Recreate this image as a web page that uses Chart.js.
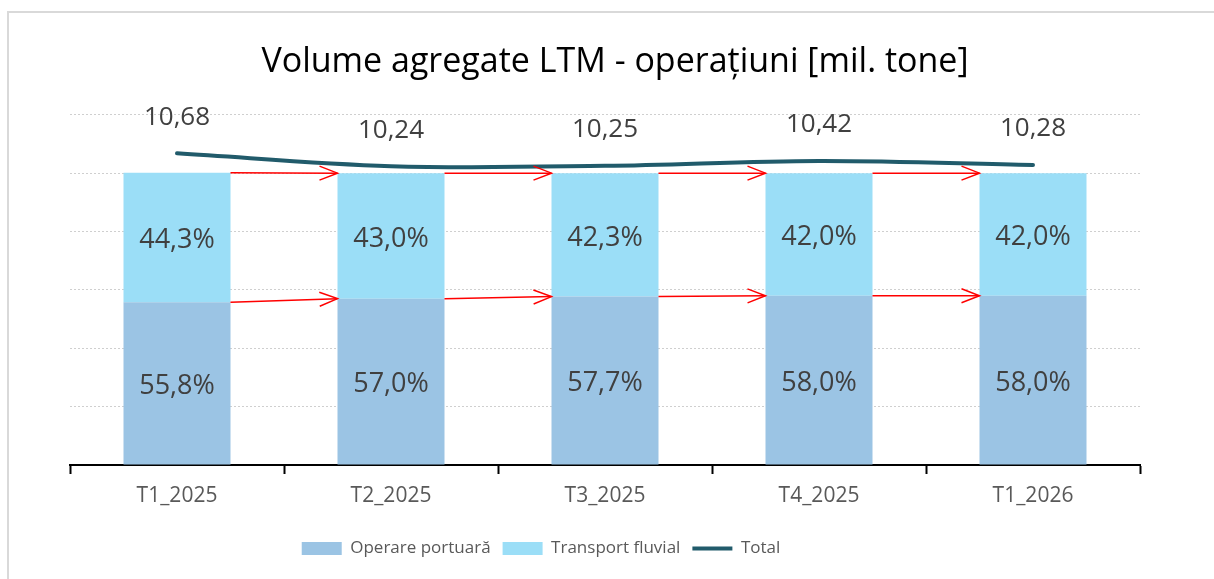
<!DOCTYPE html>
<html>
<head>
<meta charset="utf-8">
<script src="https://cdn.jsdelivr.net/npm/chart.js@4/dist/chart.umd.min.js"></script>
<style>
  html, body { margin: 0; padding: 0; background: #fff; overflow: hidden; }
  #frame { position: absolute; left: 7px; top: 11px; width: 1400px; height: 800px;
           border: 2px solid #d9d9d9; box-sizing: border-box; }
  #wrap { position: absolute; left: 0; top: 0; width: 1214px; height: 579px; }
</style>
</head>
<body>
<div id="frame"></div>
<div id="wrap"><canvas id="chart"></canvas></div>
<script>
// Volume agregate LTM - operatiuni: 100% stacked bars + total line

const categories = ['T1_2025', 'T2_2025', 'T3_2025', 'T4_2025', 'T1_2026'];
const operarePortuara = [55.8, 57.0, 57.7, 58.0, 58.0];   // % of total
const transportFluvial = [44.3, 43.0, 42.3, 42.0, 42.0];  // % of total
const totalVolume = [10.68, 10.24, 10.25, 10.42, 10.28];  // mil. tone

const FONT = "'Open Sans', 'Noto Sans', sans-serif";

const fmtPct = v => v.toFixed(1).replace('.', ',') + '%';
const fmtTot = v => v.toFixed(2).replace('.', ',');

// nudge title and legend sideways like in the original (not centred on the plot)
const shiftPlugin = {
  id: 'shift',
  afterLayout(chart) {
    if (chart.titleBlock) { chart.titleBlock.left += 10; chart.titleBlock.right += 10; }
    if (chart.legend) { chart.legend.left -= 64; chart.legend.right -= 64; }
  }
};

// labels inside bar segments and above the total line, plus red arrows between bars
const overlayPlugin = {
  id: 'overlay',
  afterDatasetsDraw(chart) {
    const ctx = chart.ctx;
    const lower = chart.getDatasetMeta(0).data;
    const upper = chart.getDatasetMeta(1).data;
    const line = chart.getDatasetMeta(2).data;

    // red arrows at the segment boundary and at the stack top
    ctx.save();
    ctx.strokeStyle = '#ff0000';
    ctx.lineWidth = 1.5;
    for (let i = 0; i < lower.length - 1; i++) {
      [[lower[i], lower[i + 1]], [upper[i], upper[i + 1]]].forEach(([a, b]) => {
        const x0 = a.x + a.width / 2, y0 = a.y;
        const x1 = b.x - b.width / 2, y1 = b.y;
        const ang = Math.atan2(y1 - y0, x1 - x0);
        ctx.beginPath();
        ctx.moveTo(x0, y0);
        ctx.lineTo(x1, y1);
        ctx.stroke();
        ctx.beginPath();
        ctx.moveTo(x1 - 18 * Math.cos(ang) + 7 * Math.sin(ang), y1 - 18 * Math.sin(ang) - 7 * Math.cos(ang));
        ctx.lineTo(x1, y1);
        ctx.lineTo(x1 - 18 * Math.cos(ang) - 7 * Math.sin(ang), y1 - 18 * Math.sin(ang) + 7 * Math.cos(ang));
        ctx.stroke();
      });
    }
    ctx.restore();

    ctx.save();
    ctx.font = '27px ' + FONT;
    ctx.fillStyle = '#404040';
    ctx.textAlign = 'center';
    ctx.textBaseline = 'middle';
    lower.forEach((bar, i) => {
      ctx.fillText(fmtPct(operarePortuara[i]), bar.x, (bar.y + bar.base) / 2 + 3);
    });
    upper.forEach((bar, i) => {
      ctx.fillText(fmtPct(transportFluvial[i]), bar.x, (bar.y + bar.base) / 2 + 3);
    });
    ctx.font = '26px ' + FONT;
    line.forEach((pt, i) => {
      ctx.fillText(fmtTot(totalVolume[i]), pt.x, pt.y - 36);
    });
    ctx.restore();
  }
};

new Chart(document.getElementById('chart'), {
  type: 'bar',
  data: {
    labels: categories,
    datasets: [
      {
        label: 'Operare portuară',
        data: operarePortuara,
        backgroundColor: '#9bc4e4',
        borderWidth: 0,
        stack: 's',
        yAxisID: 'y'
      },
      {
        label: 'Transport fluvial',
        data: transportFluvial,
        backgroundColor: '#9bdef7',
        borderWidth: 0,
        stack: 's',
        yAxisID: 'y'
      },
      {
        type: 'line',
        label: 'Total',
        data: totalVolume,
        borderColor: '#215b6b',
        backgroundColor: '#215b6b',
        borderWidth: 4,
        borderCapStyle: 'round',
        pointRadius: 0,
        pointStyle: 'line',
        tension: 0.35,
        yAxisID: 'y2'
      }
    ]
  },
  options: {
    responsive: true,
    maintainAspectRatio: false,
    animation: false,
    layout: { padding: { left: 70, right: 74, top: 0, bottom: 12 } },
    datasets: {
      bar: { barPercentage: 1, categoryPercentage: 0.5 }
    },
    plugins: {
      title: {
        display: true,
        text: 'Volume agregate LTM - operațiuni [mil. tone]',
        color: '#000000',
        font: { family: FONT, size: 34, weight: 'normal' },
        padding: { top: 42, bottom: 32 }
      },
      legend: {
        position: 'bottom',
        labels: {
          color: '#595959',
          font: { family: FONT, size: 17 },
          usePointStyle: true,
          pointStyle: 'rect',
          pointStyleWidth: 40,
          boxHeight: 13,
          padding: 12,
          generateLabels(chart) {
            const items = Chart.defaults.plugins.legend.labels.generateLabels(chart);
            items.forEach(it => {
              if (it.datasetIndex < 2) { it.pointStyle = 'rect'; it.lineWidth = 0; }
              else { it.pointStyle = 'line'; it.lineWidth = 4; }
            });
            return items;
          }
        }
      },
      tooltip: { enabled: false }
    },
    scales: {
      x: {
        stacked: true,
        grid: {
          offset: true,
          drawOnChartArea: false,
          drawTicks: true,
          tickLength: 9,
          tickColor: '#000000',
          tickWidth: 2
        },
        border: { display: true, color: '#000000', width: 2 },
        ticks: {
          color: '#595959',
          font: { family: FONT, size: 21 },
          padding: 9
        },
        afterFit(s) { s.height = 63; }
      },
      y: {
        stacked: true,
        min: 0,
        max: 120,
        ticks: { display: false, stepSize: 20 },
        border: { display: false, dash: [2, 2] },
        grid: { color: '#cfcfcf', lineWidth: 1, drawTicks: false, tickLength: 0 },
        afterFit(s) { s.width = 0; }
      },
      y2: {
        display: false,
        min: 0,
        max: 12
      }
    }
  },
  plugins: [shiftPlugin, overlayPlugin]
});
</script>
</body>
</html>
